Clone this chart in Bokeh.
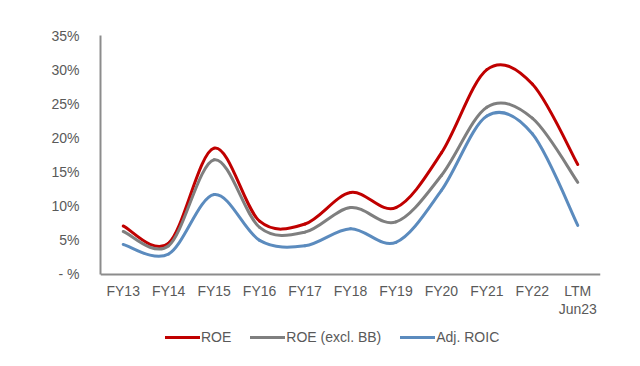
from bokeh.plotting import figure
from bokeh.models import FixedTicker, Range1d, Legend, LegendItem, ColumnDataSource
from bokeh.embed import file_html
from bokeh.resources import INLINE

categories = ["FY13", "FY14", "FY15", "FY16", "FY17", "FY18", "FY19", "FY20", "FY21", "FY22", "LTM\nJun23"]
roe = [7.1, 4.6, 18.5, 7.8, 7.4, 12.0, 9.8, 17.8, 30.0, 27.9, 16.1]
roe_excl_bb = [6.3, 4.2, 16.8, 6.9, 6.2, 9.8, 7.7, 14.5, 24.5, 22.9, 13.5]
adj_roic = [4.4, 3.0, 11.7, 5.0, 4.2, 6.7, 4.7, 12.3, 23.2, 20.6, 7.2]
y_ticks = [0, 5, 10, 15, 20, 25, 30, 35]
y_tick_labels = ["- %", "5%", "10%", "15%", "20%", "25%", "30%", "35%"]

series = [("ROE", roe, "#C00000"),
          ("ROE (excl. BB)", roe_excl_bb, "#7F7F7F"),
          ("Adj. ROIC", adj_roic, "#5B8BBE")]

FONT = "Liberation Sans"
FS = "14px"
TXT = "#595959"
AX = "#8C8C8C"

Y_MAX = 35
Y_BELOW = 12.6  # empty room under the x axis for labels and legend

p = figure(width=640, height=366, output_backend="svg", toolbar_location=None,
           x_range=Range1d(0, len(categories)), y_range=Range1d(-Y_BELOW, Y_MAX),
           min_border_left=100, min_border_right=40, min_border_top=35, min_border_bottom=6)
p.outline_line_color = None
p.xgrid.visible = False
p.ygrid.visible = False

xs = [i + 0.5 for i in range(len(categories))]

def smooth_segments(ys):
    n = len(ys)
    d = dict(x0=[], y0=[], x1=[], y1=[], cx0=[], cy0=[], cx1=[], cy1=[])
    for i in range(n - 1):
        p0 = (xs[max(i - 1, 0)], ys[max(i - 1, 0)])
        p1 = (xs[i], ys[i])
        p2 = (xs[i + 1], ys[i + 1])
        p3 = (xs[min(i + 2, n - 1)], ys[min(i + 2, n - 1)])
        d["x0"].append(p1[0]); d["y0"].append(p1[1])
        d["x1"].append(p2[0]); d["y1"].append(p2[1])
        d["cx0"].append(p1[0] + (p2[0] - p0[0]) / 6); d["cy0"].append(p1[1] + (p2[1] - p0[1]) / 6)
        d["cx1"].append(p2[0] - (p3[0] - p1[0]) / 6); d["cy1"].append(p2[1] - (p3[1] - p1[1]) / 6)
    return ColumnDataSource(d)

items = []
for name, ys, col in series:
    src = smooth_segments(ys)
    r = p.bezier(x0="x0", y0="y0", x1="x1", y1="y1", cx0="cx0", cy0="cy0", cx1="cx1", cy1="cy1",
                 source=src, line_color=col, line_width=3, line_cap="round")
    items.append(LegendItem(label=name, renderers=[r], index=0))

# axes
p.xaxis.ticker = FixedTicker(ticks=xs)
p.xaxis.major_label_overrides = {x: c for x, c in zip(xs, categories)}
p.xaxis.fixed_location = 0
p.yaxis.ticker = FixedTicker(ticks=y_ticks)
p.yaxis.major_label_overrides = {t: l for t, l in zip(y_ticks, y_tick_labels)}
p.yaxis.bounds = (0, Y_MAX)
for ax in (p.xaxis, p.yaxis):
    ax.axis_line_color = AX
    ax.axis_line_width = 2
    ax.major_tick_line_color = None
    ax.minor_tick_line_color = None
    ax.major_label_text_font = FONT
    ax.major_label_text_font_size = FS
    ax.major_label_text_color = TXT
p.yaxis.major_label_standoff = 15
p.xaxis.major_label_standoff = 3
p.xaxis.major_label_text_line_height = 1.1

legend = Legend(items=items, orientation="horizontal", location=(65, 13),
                glyph_width=35, glyph_height=20, label_standoff=1, spacing=19,
                padding=0, margin=0, border_line_color=None, background_fill_alpha=0,
                label_text_font=FONT, label_text_font_size=FS, label_text_color=TXT,
                label_height=20)
p.add_layout(legend, "center")

open("out.html", "w").write(file_html(p, INLINE))
